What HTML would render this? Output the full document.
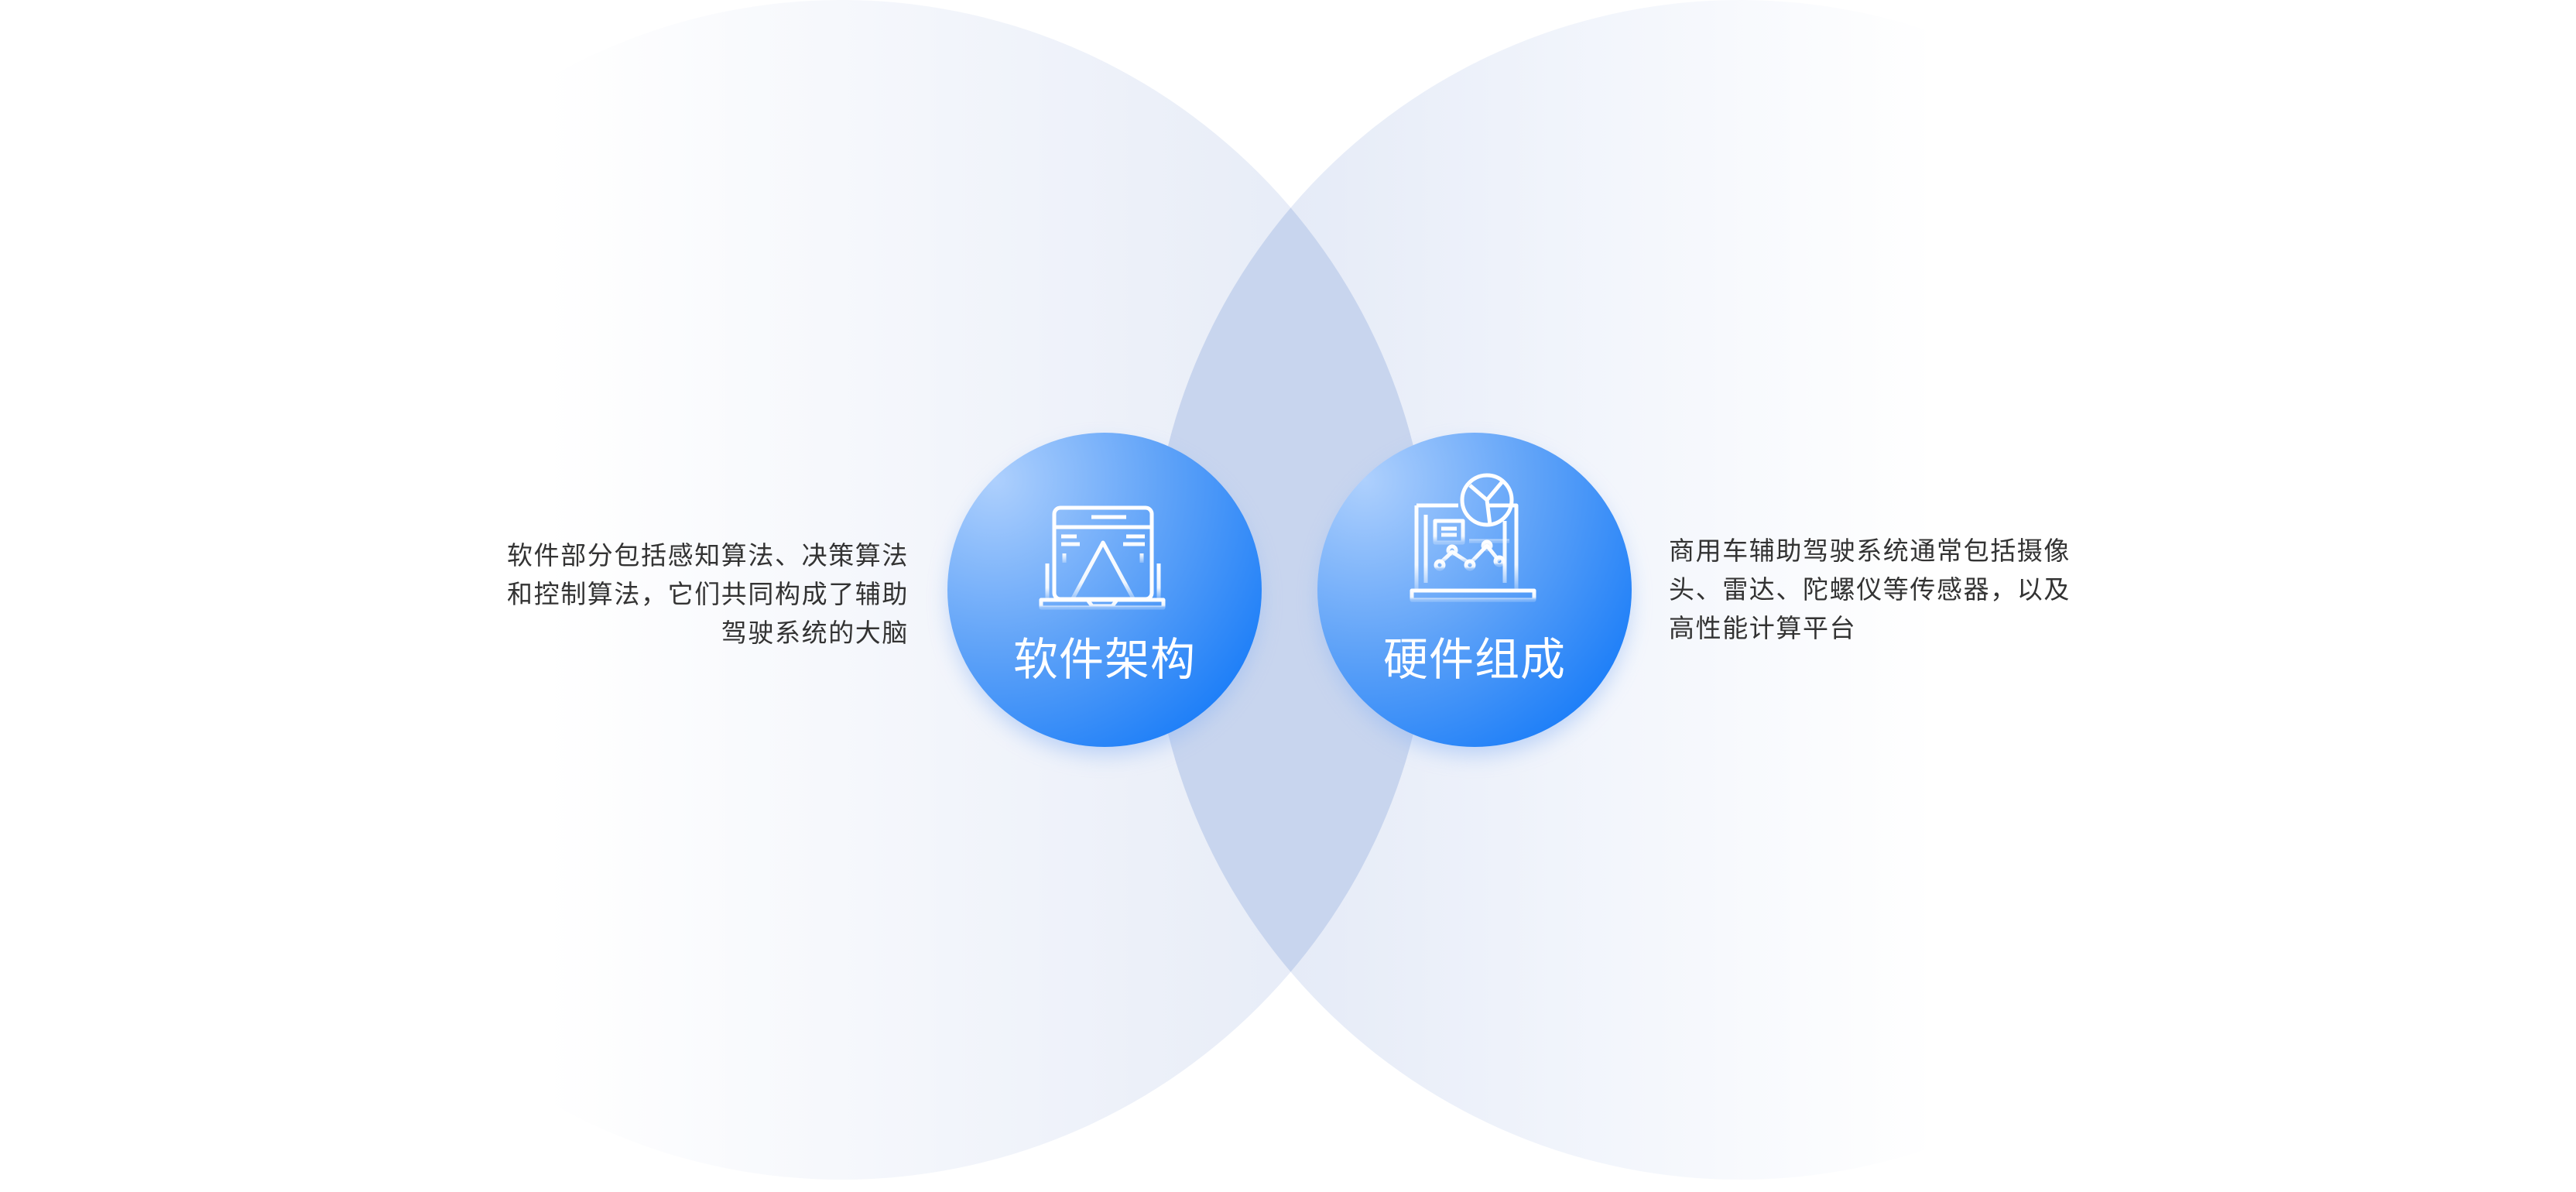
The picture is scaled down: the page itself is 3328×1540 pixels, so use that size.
<!DOCTYPE html>
<html><head><meta charset="utf-8">
<style>
html,body{margin:0;padding:0;background:#fff;}
body{width:3328px;height:1540px;position:relative;overflow:hidden;font-family:"Liberation Sans","Noto Sans CJK SC",sans-serif;}
.t{position:absolute;font-size:33px;line-height:50px;letter-spacing:1.6px;color:#333;}
.title{position:absolute;font-size:58px;color:#fff;width:400px;text-align:center;letter-spacing:1px;}
</style></head><body>
<svg width="3328" height="1540" style="position:absolute;left:0;top:0">
<defs>
<linearGradient id="gl" x1="325" y1="0" x2="1849" y2="0" gradientUnits="userSpaceOnUse">
<stop offset="0" stop-color="#ffffff"/><stop offset="0.25" stop-color="#ffffff"/><stop offset="1" stop-color="#e3e9f6"/></linearGradient>
<linearGradient id="gr" x1="1486" y1="0" x2="2500" y2="0" gradientUnits="userSpaceOnUse">
<stop offset="0" stop-color="#dfe6f5"/><stop offset="0.6" stop-color="#f3f6fc"/><stop offset="1" stop-color="#ffffff"/></linearGradient>
<clipPath id="cl"><circle cx="1087" cy="762" r="762"/></clipPath>
<radialGradient id="bg1" cx="0.15" cy="0.15" r="1.0">
<stop offset="0" stop-color="#aed0fd"/><stop offset="0.55" stop-color="#5ea2f8"/><stop offset="1" stop-color="#1e7ff8"/></radialGradient>
<filter id="sh" x="-30%" y="-30%" width="160%" height="160%"><feGaussianBlur stdDeviation="14"/></filter>
<linearGradient id="fade" x1="0" y1="0" x2="0" y2="1"><stop offset="0" stop-color="#fff" stop-opacity="1"/><stop offset="0.7" stop-color="#fff" stop-opacity="0.9"/><stop offset="1" stop-color="#fff" stop-opacity="0.25"/></linearGradient>
</defs>
<circle cx="1087" cy="762" r="762" fill="url(#gl)"/>
<circle cx="2248" cy="762" r="762" fill="url(#gr)"/>
<circle cx="2248" cy="762" r="762" fill="#c8d5ee" clip-path="url(#cl)"/>
<circle cx="1427" cy="775" r="200" fill="#8fb6f4" opacity="0.55" filter="url(#sh)"/>
<circle cx="1905" cy="775" r="200" fill="#8fb6f4" opacity="0.55" filter="url(#sh)"/>
<circle cx="1427" cy="762" r="203" fill="url(#bg1)"/>
<circle cx="1905" cy="762" r="203" fill="url(#bg1)"/>
<g fill="none" stroke="url(#fade)" stroke-width="5" stroke-linejoin="round">
<g transform="translate(1345,653)">
<rect x="17" y="3" width="126" height="118" rx="8" stroke="#fff"/>
<line x1="17" y1="28" x2="143" y2="28" stroke="#fff"/>
<line x1="65" y1="15" x2="110" y2="15" stroke="#fff"/>
<path d="M8 75 V 120 M152 75 V120"/>
<path d="M0 122 H158 V132 H0 Z M60 122 L66 130 H92 L98 122"/>
<path d="M80 48 L40 122 H120 Z"/>
<path d="M80 75 V100 M80 106 V112"/>
<path d="M26 40 H46 M26 50 H50 M110 40 H134 M106 50 H134 M30 62 V74 M130 62 V74"/>
</g>
<g transform="translate(1824,613)">
<path d="M6 40 H60 M100 40 H135 V150 M6 40 V150 M18 52 V140 M120 60 V140"/>
<circle cx="97" cy="33" r="32" stroke="#fff"/>
<path d="M97 33 L75 14 M97 33 L118 8 M97 33 L101 65" stroke="#fff"/>
<rect x="30" y="60" width="36" height="28"/>
<path d="M38 70 H58 M38 78 H58 M74 86 H126"/>
<path d="M36 115 L52 100 L75 115 L97 92 L113 112"/>
<circle cx="36" cy="117" r="5"/><circle cx="52" cy="98" r="5"/><circle cx="75" cy="117" r="5"/><circle cx="97" cy="92" r="5"/><circle cx="113" cy="112" r="5"/>
<path d="M0 150 H158 V162 H0 Z"/>
</g>
</g>
</svg>
<div class="title" style="left:1227px;top:805px;">软件架构</div>
<div class="title" style="left:1705px;top:805px;">硬件组成</div>
<div class="t" style="right:2154px;top:693px;text-align:right;">软件部分包括感知算法、决策算法<br>和控制算法，它们共同构成了辅助<br>驾驶系统的大脑</div>
<div class="t" style="left:2156px;top:687px;">商用车辅助驾驶系统通常包括摄像<br>头、雷达、陀螺仪等传感器，以及<br>高性能计算平台</div>
</body></html>
